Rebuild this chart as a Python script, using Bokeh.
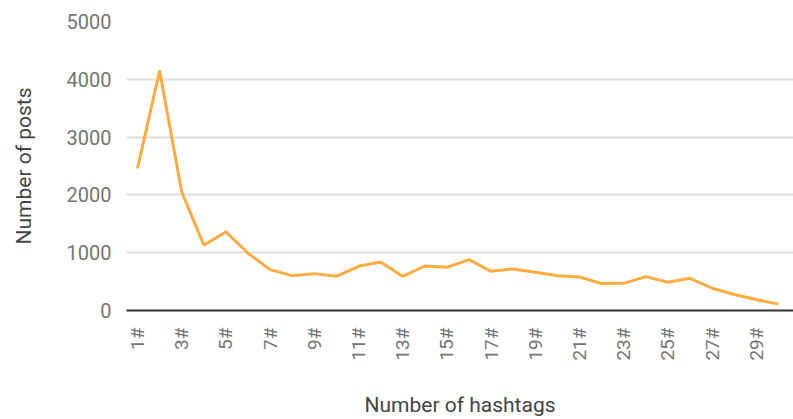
import math
from bokeh.plotting import figure
from bokeh.models import FixedTicker, ColumnDataSource
from bokeh.embed import file_html
from bokeh.resources import INLINE

categories = [f"{i}#" for i in range(1, 31)]
positions = list(range(1, 31))
posts = [2460, 4150, 2050, 1130, 1360, 990, 707, 603, 638, 592,
         764, 839, 590, 770, 747, 880, 678, 718, 661, 603,
         580, 466, 470, 586, 488, 557, 385, 276, 190, 110]
y_ticks = [0, 1000, 2000, 3000, 4000, 5000]
x_tick_positions = positions[::2]
x_tick_labels = categories[::2]

src = ColumnDataSource(dict(x=positions, y=posts, cat=categories))

X0, X1 = 0.502, 30.68
p = figure(width=793, height=419, output_backend="svg", toolbar_location=None,
           x_range=(X0, X1), y_range=(0, 5000),
           min_border_left=126, min_border_right=0, min_border_top=21, min_border_bottom=108)
p.outline_line_color = None
p.line("x", "y", source=src, line_color="#ffab40", line_width=3)

FONT = "Roboto"
# x axis
xa = p.xaxis[0]
xa.ticker = FixedTicker(ticks=x_tick_positions)
xa.major_label_overrides = {pos: lab for pos, lab in zip(x_tick_positions, x_tick_labels)}
xa.major_label_orientation = math.pi / 2
xa.major_tick_line_color = None
xa.minor_tick_line_color = None
xa.axis_line_color = "#333333"
xa.axis_line_width = 2
xa.major_label_text_font = FONT
xa.major_label_text_font_size = "19px"
xa.major_label_text_color = "#757575"
xa.major_label_standoff = 11
xa.axis_label = "Number of hashtags"
xa.axis_label_text_font = FONT
xa.axis_label_text_font_style = "normal"
xa.axis_label_text_font_size = "21px"
xa.axis_label_text_color = "#444444"
xa.axis_label_standoff = 29

# y axis
ya = p.yaxis[0]
ya.ticker = FixedTicker(ticks=y_ticks)
ya.axis_line_color = None
ya.major_tick_line_color = None
ya.minor_tick_line_color = None
ya.major_label_text_font = FONT
ya.major_label_text_font_size = "20px"
ya.major_label_text_color = "#757575"
ya.major_label_standoff = 9
ya.axis_label = "Number of posts"
ya.axis_label_text_font = FONT
ya.axis_label_text_font_style = "normal"
ya.axis_label_text_font_size = "21px"
ya.axis_label_text_color = "#444444"
ya.axis_label_standoff = 28

p.xgrid.grid_line_color = None
p.ygrid.grid_line_color = "#dddddd"
p.ygrid.grid_line_width = 2

open("out.html", "w").write(file_html(p, INLINE))
